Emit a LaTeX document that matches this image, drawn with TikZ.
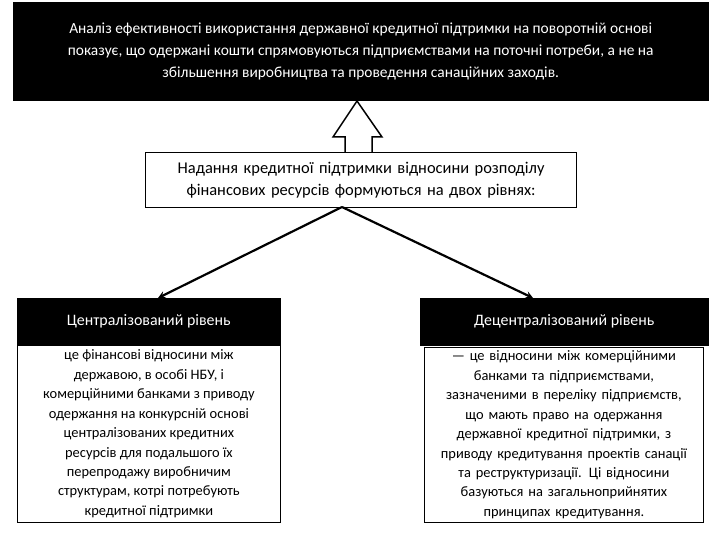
\documentclass[tikz,border=0pt]{standalone}
\usepackage{fontspec}
\setmainfont{Carlito}
\begin{document}
\begin{tikzpicture}[x=1bp,y=-1bp,
  blk/.style={fill=black,draw=black,text=white,align=center,inner sep=2bp},
  wbox/.style={draw=black,line width=1.2bp,fill=white,align=center,inner sep=2bp},
  conn/.style={-stealth,line width=2.2bp}]
\useasboundingbox (0,0) rectangle (720,540);
\node[blk,minimum width=695bp,minimum height=98bp,anchor=north west,font=\fontsize{15.5}{22}\selectfont] (top) at (13,2)
 {Аналіз ефективності використання державної кредитної підтримки на поворотній основі\\ показує, що одержані кошти спрямовуються підприємствами на поточні потреби, а не на\\ збільшення виробництва та проведення санаційних заходів.};
\node[wbox,minimum width=431bp,minimum height=55bp,anchor=north west,text width=400bp,font=\fontsize{16.5}{22}\selectfont] (mid) at (145,152)
 {Надання кредитної підтримки відносини розподілу фінансових ресурсів формуються на двох рівнях:};
\draw[line width=1.5bp,fill=white] (345,152) -- (345,137) -- (333,137) -- (357,101) -- (382,137) -- (372,137) -- (372,152);
\node[blk,minimum width=263bp,minimum height=47bp,anchor=north west,font=\fontsize{16}{19}\selectfont] (lh) at (17,298) {Централізований рівень};
\node[blk,minimum width=288bp,minimum height=47bp,anchor=north west,font=\fontsize{16}{19}\selectfont] (rh) at (420,298) {Децентралізований рівень};
\node[wbox,line width=0.8bp,minimum width=263bp,minimum height=177bp,anchor=north west,font=\fontsize{14.5}{19.5}\selectfont] (lb) at (17,345)
 {це фінансові відносини між\\ державою, в особі НБУ, і\\ комерційними банками з приводу\\ одержання на конкурсній основі\\ централізованих кредитних\\ ресурсів для подальшого їх\\ перепродажу виробничим\\ структурам, котрі потребують\\ кредитної підтримки};
\node[wbox,line width=0.8bp,minimum width=279bp,minimum height=175bp,anchor=north west,text width=262bp,font=\fontsize{14.5}{19.5}\selectfont] (rb) at (424,347)
 {— це відносини між комерційними банками та підприємствами, зазначеними в переліку підприємств, що мають право на одержання державної кредитної підтримки, з приводу кредитування проектів санації та реструктуризації. Ці відносини базуються на загальноприйнятих принципах кредитування.};
\coordinate (o) at (342,207);
\draw[conn] (o) -- (158,298);
\draw[conn] (o) -- (533,298);
\end{tikzpicture}
\end{document}
